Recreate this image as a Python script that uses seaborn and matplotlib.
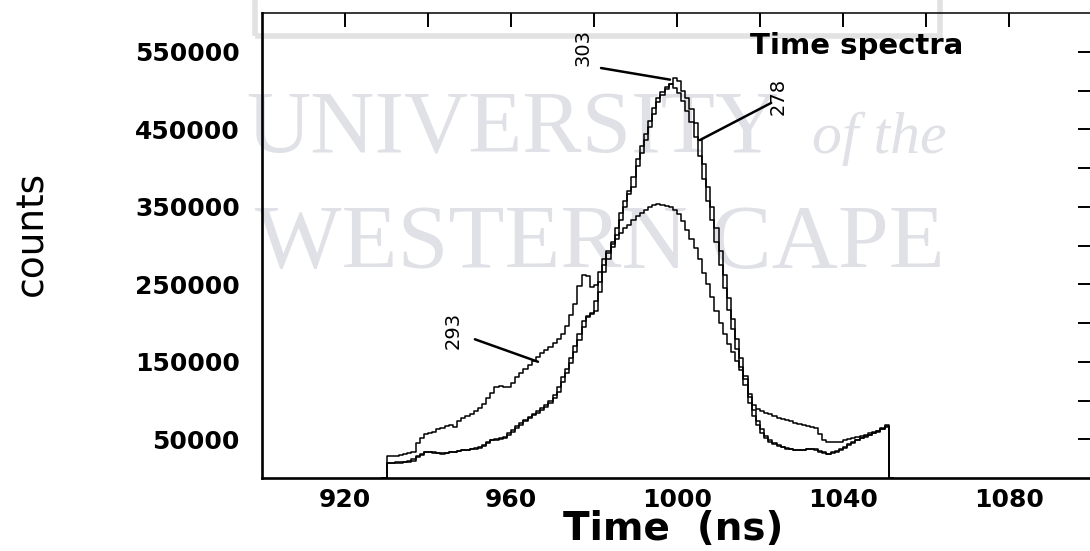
import numpy as np
import pandas as pd
import matplotlib
matplotlib.use('Agg')
import matplotlib.pyplot as plt
import matplotlib.patches as mpatches
import seaborn as sns
from matplotlib.ticker import FixedLocator

# channel counts, 1 ns channels starting at 930 ns
t_start = 930
counts_303 = [19000, 19500, 20000, 20000, 20500, 21000, 22000, 27000, 30000, 33500,
              33000, 32500, 32000, 31500, 32000, 33000, 33500, 34500, 35500, 36000,
              37000, 38000, 39000, 41000, 45000, 48500, 49500, 50500, 51500, 55000,
              60000, 65000, 69000, 73000, 77000, 81000, 84500, 88000, 92000, 97000,
              103000, 111000, 124000, 135000, 148000, 163000, 178000, 195000, 208000, 211000,
              216000, 240000, 266000, 283000, 298000, 313000, 333000, 350000, 366000, 375000,
              402000, 420000, 436000, 453000, 470000, 485000, 494000, 502000, 508000, 516000,
              512000, 500000, 490000, 476000, 458000, 436000, 405000, 375000, 350000, 322000,
              293000, 262000, 232000, 205000, 180000, 155000, 132000, 108000, 88000, 74000,
              63000, 54000, 49000, 45000, 42000, 40000, 38500, 37000, 36500, 36000,
              36000, 37000, 37500, 37000, 35000, 33000, 31500, 32000, 34000, 36000,
              39000, 42000, 45000, 48500, 51000, 53000, 55000, 57500, 60000, 63000,
              68000]
counts_278 = [20000, 20000, 20500, 21000, 21000, 21500, 24000, 28500, 31500, 34000,
              33500, 33000, 32500, 32000, 32500, 33500, 34000, 35000, 36000, 36500,
              37500, 38500, 40000, 43000, 47000, 49000, 50000, 51000, 53000, 57500,
              62500, 67000, 71000, 75000, 79000, 83000, 86000, 90000, 94500, 100000,
              107000, 117000, 130000, 141000, 155000, 170000, 186000, 202000, 209000, 213000,
              228000, 253000, 275000, 290000, 305000, 323000, 342000, 358000, 370000, 388000,
              411000, 428000, 444000, 461000, 477000, 490000, 498000, 505000, 508000, 503000,
              497000, 487000, 474000, 460000, 440000, 416000, 386000, 358000, 333000, 305000,
              275000, 245000, 217000, 192000, 167000, 143000, 120000, 97000, 80000, 68000,
              58000, 51000, 47000, 43500, 41000, 39500, 38000, 37000, 36500, 36000,
              36500, 37500, 37500, 36000, 34000, 32000, 31500, 33000, 35000, 37500,
              40500, 43500, 46500, 49500, 52000, 54000, 56000, 58500, 61000, 64000,
              67000]
counts_293 = [28000, 28500, 29000, 30000, 31000, 32000, 33500, 45000, 51000, 57000,
              58000, 60000, 63000, 65000, 67000, 68000, 66000, 74000, 77000, 80000,
              83000, 86000, 90000, 96000, 103000, 110000, 118000, 119000, 118000, 117000,
              122000, 130000, 136000, 141000, 146000, 151000, 156000, 161000, 165000, 169000,
              174000, 180000, 186000, 196000, 210000, 225000, 248000, 262000, 261000, 246000,
              249000, 266000, 283000, 293000, 302000, 309000, 316000, 322000, 327000, 333000,
              338000, 342000, 346000, 350000, 352000, 353000, 352000, 351000, 350000, 346000,
              341000, 332000, 320000, 309000, 297000, 283000, 265000, 250000, 234000, 216000,
              200000, 186000, 173000, 162000, 151000, 140000, 128000, 104000, 94000, 89000,
              86000, 84000, 82000, 80000, 78000, 76500, 75000, 73000, 71500, 70000,
              68500, 67000, 65500, 64000, 57000, 49000, 46500, 46500, 46500, 47000,
              48500, 50000, 51500, 53000, 54500, 56000, 57500, 59000, 61000, 63000,
              65500]

runs = ['303', '278', '293']
x_ticks = [920, 960, 1000, 1040, 1080]
y_ticks = [50000, 150000, 250000, 350000, 450000, 550000]

# label position, pointer start, pointer end (data coords)
label_pos = [(977.3, 556000), (1024.3, 492000), (946.0, 191000)]
line_from = [(981.7, 529000), (1022.7, 484000), (951.3, 179000)]
line_to = [(998.3, 514000), (1005.5, 436000), (966.5, 150000)]

frames = []
for name, c in zip(runs, [counts_303, counts_278, counts_293]):
    c = np.r_[0, c, 0]  # empty channels either side of the window
    t = t_start - 1 + np.arange(len(c)) + 0.5
    frames.append(pd.DataFrame({'time': t, 'counts': c, 'run': name}))
df = pd.concat(frames, ignore_index=True)
n_bins = len(counts_303) + 2

sns.set_theme(style='white')
plt.rcParams['font.family'] = ['DejaVu Sans']
plt.rcParams.update({'text.color': 'black', 'axes.labelcolor': 'black',
                     'xtick.color': 'black', 'ytick.color': 'black'})

fig = plt.figure(figsize=(10.9, 5.51), dpi=100)
ax = fig.add_axes([262 / 1090, 73 / 551, 830 / 1090, 465 / 551])
ax.set_facecolor('none')

# faint watermark
wm = '#e0e1e6'
fig.text(246 / 1090, 1 - 153 / 551, 'UNIVERSITY', family='Liberation Serif',
         fontsize=64, color=wm, zorder=-2)
fig.text(812 / 1090, 1 - 153 / 551, 'of the', family='Liberation Serif',
         style='italic', fontsize=43, color=wm, zorder=-2)
fig.text(255 / 1090, 1 - 268 / 551, 'WESTERN CAPE', family='Liberation Serif',
         fontsize=66, color=wm, zorder=-2)
fig.patches.append(mpatches.Rectangle((255 / 1090, 1 - 36 / 551), 685 / 1090, 60 / 551,
                                      transform=fig.transFigure, fill=False,
                                      edgecolor='#e2e2e2', lw=4, zorder=-2))

for name in runs:
    sub = df[df['run'] == name]
    sns.histplot(data=sub, x='time', weights='counts', binwidth=1,
                 binrange=(t_start - 1, t_start - 1 + n_bins),
                 element='step', fill=False, color='black', linewidth=1.1, ax=ax)

for name, p, a, b in zip(runs, label_pos, line_from, line_to):
    ax.text(p[0], p[1], name, rotation=90, ha='center', va='center',
            fontsize=14, color='black')
    ax.annotate('', xy=b, xytext=a,
                arrowprops=dict(arrowstyle='-', lw=1.8, color='black',
                                shrinkA=0, shrinkB=0))

ax.text(0.716, 0.929, 'Time spectra', transform=ax.transAxes, ha='center',
        va='center', fontsize=21, fontweight='bold')

ax.set_xlim(900, 1100)
ax.set_ylim(0, 600000)
ax.xaxis.set_major_locator(FixedLocator(x_ticks))
ax.xaxis.set_minor_locator(FixedLocator([940, 980, 1020, 1060]))
ax.yaxis.set_major_locator(FixedLocator(y_ticks))
ax.yaxis.set_minor_locator(FixedLocator([100000, 200000, 300000, 400000, 500000]))
ax.set_xticklabels([str(v) for v in x_ticks])
ax.set_yticklabels([str(v) for v in y_ticks])
ax.tick_params(which='both', direction='in', length=10, width=1.4,
               top=True, right=True, color='black')
ax.tick_params(axis='y', pad=16, labelsize=18)
ax.tick_params(axis='x', pad=7, labelsize=18)
for lab in ax.get_xticklabels() + ax.get_yticklabels():
    lab.set_fontweight('bold')

for side in ['left', 'bottom']:
    ax.spines[side].set_linewidth(1.9)
for side in ['top', 'right']:
    ax.spines[side].set_linewidth(1.1)
for s in ax.spines.values():
    s.set_color('black')

ax.set_xlabel('Time  (ns)', fontsize=28, fontweight='bold')
ax.xaxis.set_label_coords(0.495, -0.068)
ax.set_ylabel('counts', fontsize=27)
ax.yaxis.set_label_coords(-0.255, 0.527)

plt.savefig('out.png', dpi=100)
plt.close()
